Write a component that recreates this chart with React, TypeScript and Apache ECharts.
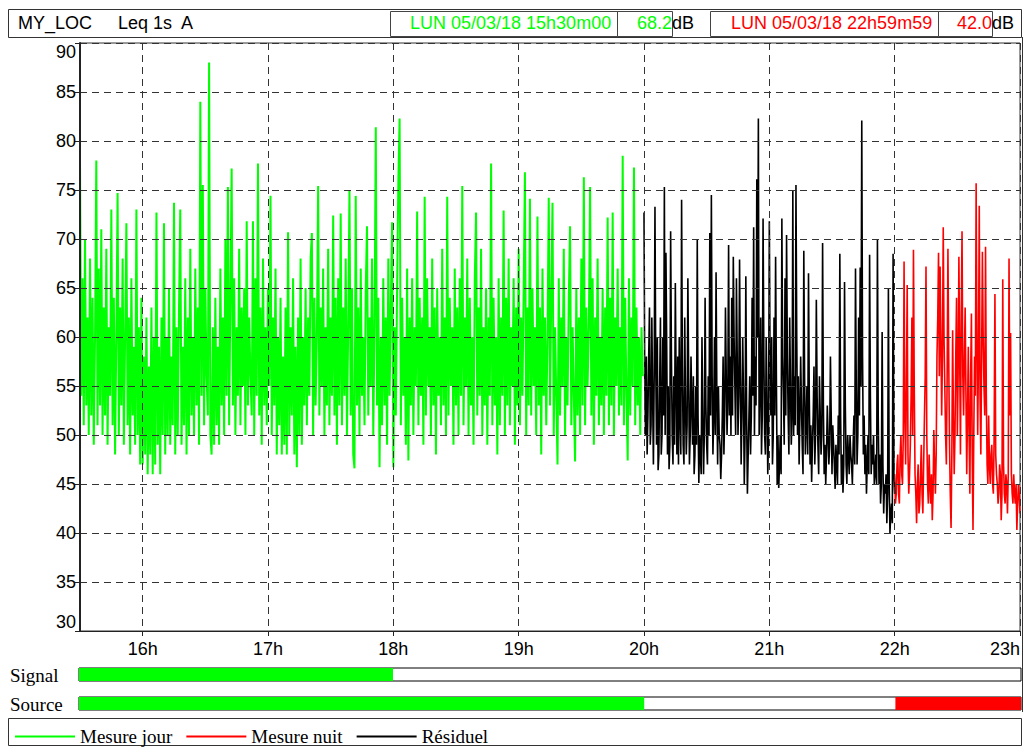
import React, { useEffect, useRef } from 'react';
import * as echarts from 'echarts';

// ---- texts ----
const TITLE = 'MY_LOC';
const METRIC = 'Leq 1s  A';
const START_LABEL = 'LUN 05/03/18 15h30m00';
const START_VALUE = '68.2';
const END_LABEL = 'LUN 05/03/18 22h59m59';
const END_VALUE = '42.0';
const UNIT = 'dB';
const ROW_LABELS = ['Signal', 'Source'];
const SERIES_NAMES = ['Mesure jour', 'Mesure nuit', 'Résiduel'];

// ---- axes ----
const X_MIN = 15.5;
const X_MAX = 23;
const Y_MIN = 30;
const Y_MAX = 90;
const Y_STEP = 5;

// ---- Mesure jour (15h30 -> 20h00) ----
const DAY_START = 15.5;
const DAY_STEP = 0.01;
const dayValues = [
  78, 54, 66, 51, 70, 53, 62, 50, 68, 52, 64, 49, 60, 78, 51, 67, 53, 71, 50, 63, 52, 69, 49, 61, 54, 73, 51, 64, 48, 60,
  74.7, 50, 63, 53, 68, 49, 60, 71.6, 51, 62, 48, 66, 52, 59, 49, 73, 50, 61, 47, 64, 47, 58, 48, 62, 46, 57, 48, 63, 46, 60,
  47, 72.7, 49, 59, 46, 62, 50, 71.6, 48, 60, 50, 65, 49, 58, 51, 73.7, 48, 61, 50, 63, 73, 49, 59, 51, 66, 48, 62, 50, 69, 52,
  60, 50, 67, 53, 63, 49, 84, 54, 75.5, 51, 65, 56, 52, 88, 50, 48, 61, 49, 64, 51, 59, 49, 67, 53, 62, 50, 70, 54, 75.3, 51,
  64, 77.2, 53, 66, 50, 61, 54, 69, 51, 63, 55, 65, 50, 71.8, 53, 62, 56, 52, 71.8, 50, 66, 54, 77.7, 52, 63, 49, 68, 53, 61, 51,
  65, 55, 74.4, 50, 62, 53, 67, 48, 60, 51, 64, 48, 58, 49, 63, 48, 70.7, 50, 61, 52, 66, 48, 59, 46.7, 62, 50, 68, 49, 60, 53,
  65, 51, 62, 54, 68, 70.6, 50, 64, 53, 60, 75.4, 52, 63, 55, 67, 50, 61, 53, 69, 51, 62, 54, 72.4, 52, 64, 49, 66, 53, 72.6, 51,
  63, 54, 68, 50, 61, 75, 52, 65, 48, 46.6, 74.4, 53, 63, 50, 67, 54, 60, 51, 65, 71.3, 52, 62, 55, 68, 50, 61, 81.4, 53, 64, 46.7,
  60, 51, 66, 53, 62, 49, 68, 54, 63, 71.7, 46.7, 61, 52, 65, 75.8, 82.3, 51, 64, 54, 60, 49, 67, 47.4, 62, 53, 66, 50, 61, 55, 72.8,
  51, 64, 54, 62, 49, 74.3, 52, 66, 55, 61, 50, 68, 53, 63, 48, 65, 54, 60, 51, 69, 53, 62, 50, 74.3, 52, 64, 55, 61, 49, 67,
  53, 63, 50, 66, 54, 75.4, 51, 62, 55, 68, 50, 64, 53, 60, 49, 66, 72.7, 52, 63, 54, 69, 50, 61, 53, 65, 49, 62, 54, 77.7, 51,
  64, 53, 60, 48, 66, 51, 62, 54, 72.9, 50, 64, 53, 68, 51, 61, 55, 66, 49, 63, 53, 69, 51, 62, 54, 65, 76.8, 50, 63, 53, 74.1,
  52, 65, 55, 61, 50, 72.3, 53, 63, 48, 67, 54, 62, 51, 60, 74.2, 53, 64, 73.7, 50, 61, 54, 47, 66, 52, 62, 55, 69, 50, 60, 53,
  64, 71.3, 51, 61, 54, 47.3, 65, 52, 62, 50, 68, 53, 76.3, 51, 63, 55, 61, 75.3, 52, 66, 49, 62, 54, 68, 51, 60, 53, 65, 50, 63,
  54, 72.2, 51, 64, 53, 72.7, 50, 62, 55, 67, 52, 61, 53, 78.5, 51, 64, 54, 47.4, 66, 52, 62, 55, 77.3, 51, 63, 53, 60, 50, 61, 56,
];

// ---- Résiduel (20h00 -> 22h00) ----
const RES_START = 20;
const RES_STEP = 0.00625;
const residualValues = [
  72.7, 55, 50, 58, 48, 52, 58, 63, 49, 51, 62, 54, 47, 56, 73.3, 57, 49, 60, 46.4, 48,
  55, 62, 48, 50, 60, 52, 75.3, 50, 68.6, 59, 48, 55, 46.5, 49, 70.8, 58, 50, 47, 56, 49,
  65.5, 55, 48, 58, 47, 60, 52, 48, 74, 57, 49, 47, 62, 53, 48, 51, 66, 56, 47, 50,
  58, 53, 49, 56, 46, 48, 55, 49, 70, 52, 45.1, 50, 48, 46, 60, 52, 46, 50, 64, 53,
  49, 47, 56, 50, 70.6, 52, 74.5, 56, 48, 52, 60, 50, 66.6, 54, 47, 55, 50, 49, 45.5, 48,
  52, 58, 48, 52, 63, 56, 50, 54, 69.4, 52, 58, 50, 64, 52, 68.2, 60, 55, 50, 66, 58,
  50, 54, 67.9, 56, 47, 52, 60, 54, 45, 50, 66.2, 52, 44, 48, 52, 56, 48, 52, 64, 54,
  71.2, 50, 58, 53, 76.1, 60, 82.3, 50, 55, 62, 48, 52, 72.1, 58, 50, 48, 60, 54, 46, 50,
  71.8, 56, 52, 60, 47, 50, 62, 52, 68.2, 56, 45, 50, 44.6, 47, 50, 46, 72.1, 58, 54, 49,
  66, 52, 70.4, 58, 52, 48, 62, 55, 49, 52, 74.9, 50, 56, 51, 75.5, 60, 50, 56, 47, 52,
  58, 53, 49, 46, 68.8, 56, 48, 51, 55, 48, 66.5, 54, 47, 51, 45.2, 49, 52, 57, 47, 50,
  63.8, 54, 49, 46, 56, 52, 48, 50, 69.6, 53, 46, 49, 45, 48, 53, 50, 47, 49, 58, 52,
  46, 51, 49, 47, 44.5, 49, 47, 45, 52, 48, 68.5, 52, 45, 48, 44.1, 47, 65.6, 53, 47, 45,
  50, 48, 46, 50, 48, 47, 45, 49, 52, 47, 67, 55, 47, 50, 62, 52, 67.1, 55, 82.1, 58,
  48, 52, 46, 49, 44, 47, 50, 46, 68.4, 54, 46, 49, 47, 50, 45, 46, 48, 45, 70, 52,
  45, 48, 43, 45, 60.5, 47, 42, 45, 44, 46, 41, 44, 65, 45, 40, 42, 43, 41, 68.5, 46,
  44,
];

// ---- Mesure nuit (22h00 -> 23h00) ----
const NIGHT_START = 22;
const NIGHT_STEP = 0.00625;
const nightValues = [
  46, 43, 44, 47, 48, 44, 43, 48, 50, 46, 45, 50, 67.7, 52, 47, 55, 65.3, 48, 44, 46,
  49, 54, 62, 50, 68.9, 55, 46, 44, 41, 45, 47, 42, 43, 46, 49, 44, 42, 47, 51.8, 56,
  67.2, 50, 45, 43, 48, 45, 43, 46, 41.3, 44, 50.5, 47, 44, 48, 58, 62, 68.6, 56, 67.2, 60,
  52, 58, 71.2, 60, 55, 50, 47, 56, 69, 58, 49, 44, 40.5, 48, 60.7, 52, 46, 50, 58, 64,
  50, 56, 68.2, 58, 48, 62, 70.8, 56, 52, 58, 63, 54, 46, 52, 59, 50, 44, 56, 62.4, 48,
  40.3, 50, 58, 54, 75.7, 60, 50, 58, 73.4, 54, 48, 58, 68.7, 60, 55, 52, 69.2, 54, 47, 45,
  52, 47, 45, 48, 49, 45, 44, 50, 64.4, 48, 46, 45, 43, 44, 47, 46, 41.3, 44, 65.9, 47,
  44, 43, 46, 45, 42, 46, 68, 52, 60.4, 46, 44, 43, 46, 44, 43, 45, 40.3, 43, 45, 44,
  42,
];

// ---- Signal / Source bands: [start hour, end hour, series index] ----
const signalSegments = [[15.5, 18, 0]];
const sourceSegments = [
  [15.5, 20, 0],
  [22, 23, 1],
];

const COLORS = ['#00ff00', '#ff0000', '#000000'];
const SANS = '"Liberation Sans", Arial, Helvetica, sans-serif';
const SERIF = '"Liberation Serif", "Times New Roman", Times, serif';

function toPairs(start: number, step: number, vals: number[]) {
  return vals.map((v, i) => [Math.round((start + i * step) * 100000) / 100000, v]);
}

function bandRender(params: any, api: any) {
  const a = api.coord([api.value(0), 1]);
  const b = api.coord([api.value(1), 0]);
  return {
    type: 'rect',
    shape: { x: a[0], y: a[1], width: b[0] - a[0], height: b[1] - a[1] },
    style: { fill: COLORS[api.value(2)] },
  };
}

export default function App() {
  const ref = useRef<HTMLDivElement>(null);

  useEffect(() => {
    if (!ref.current) return;
    const chart = echarts.init(ref.current, null, { renderer: 'svg' });
    const gridLine = { show: true, lineStyle: { color: '#333', type: [7, 5], width: 1 } };
    const headerText = (x: number, text: string, fill: string, align = 'left') => ({
      type: 'text',
      x,
      y: 23,
      style: { text, fill, fontSize: 18, fontFamily: SANS, align, verticalAlign: 'middle' },
    });
    const box = (x: number, y: number, w: number, h: number, stroke = '#444') => ({
      type: 'rect',
      shape: { x: x + 0.5, y: y + 0.5, width: w, height: h },
      style: { fill: 'none', stroke, lineWidth: 1 },
    });
    const lineSeries = (name: string, color: string, width: number, data: number[][]) => ({
      name,
      type: 'line',
      xAxisIndex: 0,
      yAxisIndex: 0,
      data,
      symbol: 'none',
      showSymbol: false,
      lineStyle: { color, width },
      itemStyle: { color },
    });

    const option: any = {
      animation: false,
      backgroundColor: '#ffffff',
      grid: [
        { left: 80, top: 43, width: 940, height: 588, show: true, borderColor: '#333', borderWidth: 1, backgroundColor: '#fff' },
        { left: 79, top: 668, width: 942, height: 13, show: true, borderColor: '#000', borderWidth: 1, backgroundColor: '#fff' },
        { left: 79, top: 697, width: 942, height: 13, show: true, borderColor: '#000', borderWidth: 1, backgroundColor: '#fff' },
      ],
      xAxis: [
        {
          type: 'value',
          gridIndex: 0,
          min: X_MIN,
          max: X_MAX,
          splitNumber: 7,
          z: 5,
          axisLine: { show: true, onZero: false, lineStyle: { color: '#222', width: 1 } },
          axisTick: { show: true, length: 5, lineStyle: { color: '#222' } },
          axisLabel: {
            showMinLabel: false,
            formatter: (v: number) => `${v}h`,
            color: '#000',
            fontFamily: SANS,
            fontSize: 18,
            margin: 9,
            alignMaxLabel: 'right',
          },
          splitLine: gridLine,
        },
        { type: 'value', gridIndex: 1, min: X_MIN, max: X_MAX, show: false },
        { type: 'value', gridIndex: 2, min: X_MIN, max: X_MAX, show: false },
      ],
      yAxis: [
        {
          type: 'value',
          gridIndex: 0,
          min: Y_MIN,
          max: Y_MAX,
          interval: Y_STEP,
          z: 5,
          axisLine: { show: true, onZero: false, lineStyle: { color: '#222', width: 2 } },
          axisTick: { show: true, length: 5, lineStyle: { color: '#222' } },
          axisLabel: {
            color: '#000',
            fontFamily: SANS,
            fontSize: 18,
            margin: 4,
            verticalAlignMaxLabel: 'top',
            verticalAlignMinLabel: 'bottom',
          },
          splitLine: gridLine,
        },
        { type: 'value', gridIndex: 1, min: 0, max: 1, show: false },
        { type: 'value', gridIndex: 2, min: 0, max: 1, show: false },
      ],
      legend: {
        data: SERIES_NAMES,
        left: 10,
        top: 722,
        icon: 'rect',
        itemWidth: 60,
        itemHeight: 2,
        itemGap: 14,
        textStyle: { fontFamily: SERIF, fontSize: 19, color: '#000' },
      },
      series: [
        lineSeries(SERIES_NAMES[0], COLORS[0], 2, toPairs(DAY_START, DAY_STEP, dayValues)),
        lineSeries(SERIES_NAMES[1], COLORS[1], 1.6, toPairs(NIGHT_START, NIGHT_STEP, nightValues)),
        lineSeries(SERIES_NAMES[2], COLORS[2], 1.6, toPairs(RES_START, RES_STEP, residualValues)),
        {
          type: 'custom',
          xAxisIndex: 1,
          yAxisIndex: 1,
          data: signalSegments,
          encode: { x: [0, 1] },
          renderItem: bandRender,
          silent: true,
        },
        {
          type: 'custom',
          xAxisIndex: 2,
          yAxisIndex: 2,
          data: sourceSegments,
          encode: { x: [0, 1] },
          renderItem: bandRender,
          silent: true,
        },
      ],
      graphic: [
        box(8, 9, 1013, 28, '#333'),
        box(390, 11, 227, 25),
        box(617, 11, 55, 25),
        box(710, 11, 228, 25),
        box(938, 11, 54, 25),
        headerText(18, TITLE, '#000'),
        headerText(118, METRIC, '#000'),
        headerText(410, START_LABEL, COLORS[0]),
        headerText(672, START_VALUE, COLORS[0], 'right'),
        headerText(672, UNIT, '#000'),
        headerText(731, END_LABEL, COLORS[1]),
        headerText(992, END_VALUE, COLORS[1], 'right'),
        headerText(992, UNIT, '#000'),
        {
          type: 'text',
          x: 10,
          y: 675,
          style: { text: ROW_LABELS[0], fill: '#000', fontSize: 19, fontFamily: SERIF, verticalAlign: 'middle' },
        },
        {
          type: 'text',
          x: 10,
          y: 704,
          style: { text: ROW_LABELS[1], fill: '#000', fontSize: 19, fontFamily: SERIF, verticalAlign: 'middle' },
        },
        box(8, 718, 1013, 27, '#333'),
        {
          type: 'line',
          shape: { x1: 1022.5, y1: 37, x2: 1022.5, y2: 712 },
          style: { stroke: '#333', lineWidth: 1 },
        },
      ],
    };

    chart.setOption(option);
    return () => chart.dispose();
  }, []);

  return (
    <div
      ref={ref}
      style={{ position: 'fixed', left: 0, top: 0, width: 1024, height: 754, background: '#fff' }}
    />
  );
}
